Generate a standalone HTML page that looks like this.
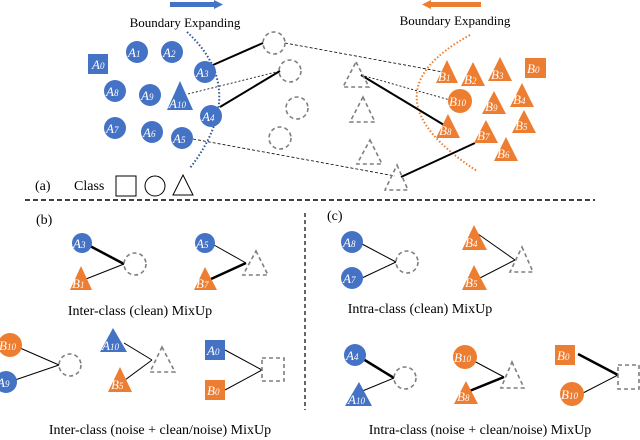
<!DOCTYPE html>
<html><head><style>body{margin:0;background:#fff}svg{display:block}</style></head><body>
<svg width="640" height="440" viewBox="0 0 640 440" xmlns="http://www.w3.org/2000/svg" font-family="Liberation Serif, serif">
<defs>
<style>
.b{fill:#4472C4}.o{fill:#ED7D31}
.d{fill:none;stroke:#7f7f7f;stroke-width:1.6;stroke-dasharray:4 3}
.t{fill:#fff;font-style:italic;font-size:13px}
.s{font-size:9px}
</style>
</defs>
<rect x="170" y="2" width="44" height="5" class="b"/><polygon points="214,0 223,4.5 214,9" class="b"/>
<rect x="431" y="2" width="50" height="5" class="o"/><polygon points="431,0 422,4.5 431,9" class="o"/>
<text x="185" y="27" font-size="13" text-anchor="middle">Boundary Expanding</text>
<text x="455" y="25" font-size="13" text-anchor="middle">Boundary Expanding</text>
<path d="M187,32 Q250,90 190,168" fill="none" stroke="#2f5597" stroke-width="2" stroke-dasharray="1.5 2"/>
<path d="M470,35 Q360,95 477,171" fill="none" stroke="#ED7D31" stroke-width="2" stroke-dasharray="1.5 2"/>
<g stroke="#000" fill="none">
<line x1="213" y1="65" x2="263" y2="43" stroke-width="2"/>
<line x1="220" y1="107" x2="280" y2="71" stroke-width="2"/>
<line x1="188" y1="94" x2="280" y2="71" stroke-width="0.8" stroke-dasharray="2 2"/>
<line x1="193" y1="139" x2="395" y2="176" stroke-width="0.8" stroke-dasharray="3 2"/>
<line x1="285" y1="43" x2="443" y2="72" stroke-width="0.8" stroke-dasharray="3 2"/>
<line x1="361" y1="75" x2="444" y2="125" stroke-width="2"/>
<line x1="361" y1="75" x2="450" y2="100" stroke-width="0.8" stroke-dasharray="2 2"/>
<line x1="401" y1="177" x2="475" y2="143" stroke-width="2"/>
</g>
<rect x="88" y="54" width="20" height="20" class="b"/><text x="92" y="69" class="t">A<tspan class="s">0</tspan></text>
<circle cx="137" cy="52" r="11" class="b"/><text x="128" y="57" class="t">A<tspan class="s">1</tspan></text>
<circle cx="172" cy="52" r="11" class="b"/><text x="163" y="57" class="t">A<tspan class="s">2</tspan></text>
<circle cx="205" cy="72" r="11" class="b"/><text x="196" y="77" class="t">A<tspan class="s">3</tspan></text>
<circle cx="115" cy="91" r="11" class="b"/><text x="106" y="96" class="t">A<tspan class="s">8</tspan></text>
<circle cx="150" cy="95" r="11" class="b"/><text x="141" y="100" class="t">A<tspan class="s">9</tspan></text>
<polygon points="180,81 193,110 167,110" class="b"/><text x="169" y="108" class="t">A<tspan class="s">10</tspan></text>
<circle cx="211" cy="116" r="11" class="b"/><text x="202" y="121" class="t">A<tspan class="s">4</tspan></text>
<circle cx="115" cy="128" r="11" class="b"/><text x="106" y="133" class="t">A<tspan class="s">7</tspan></text>
<circle cx="152" cy="132" r="11" class="b"/><text x="143" y="137" class="t">A<tspan class="s">6</tspan></text>
<circle cx="182" cy="138" r="11" class="b"/><text x="173" y="143" class="t">A<tspan class="s">5</tspan></text>
<circle cx="274" cy="43" r="11" class="d"/><circle cx="290" cy="71" r="11" class="d"/>
<circle cx="297" cy="108" r="11" class="d"/><circle cx="280" cy="138" r="11" class="d"/>
<polygon points="356,62 369,87 343,87" class="d"/><polygon points="363,97 375,122 350,122" class="d"/>
<polygon points="370,140 382,164 357,164" class="d"/><polygon points="397,165 408,190 385,190" class="d"/>
<polygon points="447,60 458,83 436,83" class="o"/><text x="438" y="81" class="t">B<tspan class="s">1</tspan></text>
<polygon points="473,62 485,86 461,86" class="o"/><text x="464" y="84" class="t">B<tspan class="s">2</tspan></text>
<polygon points="500,57 512,81 488,81" class="o"/><text x="491" y="79" class="t">B<tspan class="s">3</tspan></text>
<rect x="525" y="58" width="21" height="20" class="o"/><text x="527" y="73" class="t">B<tspan class="s">0</tspan></text>
<circle cx="460" cy="101" r="12" class="o"/><text x="449" y="106" class="t">B<tspan class="s">10</tspan></text>
<polygon points="494,91 506,114 482,114" class="o"/><text x="485" y="111" class="t">B<tspan class="s">9</tspan></text>
<polygon points="522,83 534,107 510,107" class="o"/><text x="513" y="104" class="t">B<tspan class="s">4</tspan></text>
<polygon points="524,110 536,133 512,133" class="o"/><text x="515" y="130" class="t">B<tspan class="s">5</tspan></text>
<polygon points="448,114 460,138 436,138" class="o"/><text x="439" y="135" class="t">B<tspan class="s">8</tspan></text>
<polygon points="486,120 498,143 474,143" class="o"/><text x="477" y="140" class="t">B<tspan class="s">7</tspan></text>
<polygon points="506,137 518,161 494,161" class="o"/><text x="497" y="158" class="t">B<tspan class="s">6</tspan></text>
<text x="35" y="190" font-size="14">(a)</text><text x="74" y="190" font-size="14">Class</text>
<rect x="116" y="176" width="20" height="20" fill="none" stroke="#000"/>
<circle cx="155" cy="186" r="10" fill="none" stroke="#000"/>
<polygon points="183,175 193,195 173,195" fill="none" stroke="#000"/>
<line x1="25" y1="200" x2="595" y2="200" stroke="#000" stroke-width="1.5" stroke-dasharray="5 3"/>
<line x1="305" y1="213" x2="305" y2="410" stroke="#000" stroke-width="1.2" stroke-dasharray="4 3"/>
<text x="36" y="224" font-size="14">(b)</text>
<g stroke="#000" fill="none">
<line x1="90" y1="246" x2="124" y2="264" stroke-width="2.5"/><line x1="86" y1="279" x2="124" y2="264"/>
<line x1="214" y1="245" x2="246" y2="263"/><line x1="211" y1="279" x2="246" y2="263" stroke-width="2.5"/>
<line x1="20" y1="348" x2="59" y2="365"/><line x1="15" y1="380" x2="59" y2="365"/>
<line x1="124" y1="343" x2="152" y2="360"/><line x1="125" y1="380" x2="152" y2="360"/>
<line x1="225" y1="350" x2="262" y2="370"/><line x1="225" y1="390" x2="262" y2="370"/>
</g>
<circle cx="82" cy="243" r="10" class="b"/><text x="73" y="248" class="t">A<tspan class="s">3</tspan></text>
<circle cx="135" cy="264" r="11" class="d"/>
<polygon points="81,266 92,290 70,290" class="o"/><text x="72" y="288" class="t">B<tspan class="s">1</tspan></text>
<circle cx="205" cy="243" r="10" class="b"/><text x="196" y="248" class="t">A<tspan class="s">5</tspan></text>
<polygon points="256,251 268,275 243,275" class="d"/>
<polygon points="205,267 217,290 194,290" class="o"/><text x="196" y="288" class="t">B<tspan class="s">7</tspan></text>
<text x="140" y="315" font-size="14" text-anchor="middle">Inter-class (clean) MixUp</text>
<circle cx="10" cy="345" r="12" class="o"/><text x="-1" y="350" class="t">B<tspan class="s">10</tspan></text>
<circle cx="6" cy="382" r="11" class="b"/><text x="-3" y="387" class="t">A<tspan class="s">9</tspan></text>
<circle cx="70" cy="365" r="11" class="d"/>
<polygon points="113,328 127,352 100,352" class="b"/><text x="102" y="350" class="t">A<tspan class="s">10</tspan></text>
<polygon points="162,347 175,372 150,372" class="d"/>
<polygon points="120,367 132,392 108,392" class="o"/><text x="111" y="389" class="t">B<tspan class="s">5</tspan></text>
<rect x="205" y="340" width="20" height="20" class="b"/><text x="207" y="355" class="t">A<tspan class="s">0</tspan></text>
<rect x="205" y="380" width="20" height="20" class="o"/><text x="207" y="395" class="t">B<tspan class="s">0</tspan></text>
<rect x="262" y="358" width="22" height="23" class="d"/>
<text x="160" y="434" font-size="14" text-anchor="middle">Inter-class (noise + clean/noise) MixUp</text>
<text x="327" y="220" font-size="14">(c)</text>
<g stroke="#000" fill="none">
<line x1="362" y1="244" x2="396" y2="262"/><line x1="362" y1="278" x2="396" y2="262"/>
<line x1="478" y1="234" x2="515" y2="260"/><line x1="478" y1="279" x2="515" y2="260"/>
<line x1="363" y1="359" x2="394" y2="378" stroke-width="2.5"/><line x1="360" y1="392" x2="394" y2="378"/>
<line x1="472" y1="360" x2="504" y2="377"/><line x1="467" y1="392" x2="504" y2="377" stroke-width="2.5"/>
<line x1="578" y1="354" x2="618" y2="375" stroke-width="2.5"/><line x1="583" y1="393" x2="618" y2="375"/>
</g>
<circle cx="352" cy="242" r="11" class="b"/><text x="343" y="247" class="t">A<tspan class="s">8</tspan></text>
<circle cx="352" cy="278" r="11" class="b"/><text x="343" y="283" class="t">A<tspan class="s">7</tspan></text>
<circle cx="407" cy="262" r="11" class="d"/>
<polygon points="474,225 487,250 462,250" class="o"/><text x="465" y="247" class="t">B<tspan class="s">4</tspan></text>
<polygon points="474,265 487,290 462,290" class="o"/><text x="465" y="287" class="t">B<tspan class="s">5</tspan></text>
<polygon points="522,247 533,272 510,272" class="d"/>
<text x="420" y="313" font-size="14" text-anchor="middle">Intra-class (clean) MixUp</text>
<circle cx="355" cy="355" r="11" class="b"/><text x="346" y="360" class="t">A<tspan class="s">4</tspan></text>
<polygon points="359,382 372,406 345,406" class="b"/><text x="348" y="404" class="t">A<tspan class="s">10</tspan></text>
<circle cx="405" cy="378" r="11" class="d"/>
<circle cx="465" cy="357" r="12" class="o"/><text x="454" y="362" class="t">B<tspan class="s">10</tspan></text>
<polygon points="466,381 478,404 454,404" class="o"/><text x="457" y="401" class="t">B<tspan class="s">8</tspan></text>
<polygon points="512,362 524,388 501,388" class="d"/>
<rect x="555" y="345" width="20" height="20" class="o"/><text x="557" y="360" class="t">B<tspan class="s">0</tspan></text>
<circle cx="572" cy="394" r="12" class="o"/><text x="561" y="399" class="t">B<tspan class="s">10</tspan></text>
<rect x="618" y="365" width="21" height="24" class="d"/>
<text x="480" y="434" font-size="14" text-anchor="middle">Intra-class (noise + clean/noise) MixUp</text>
</svg>
</body></html>
